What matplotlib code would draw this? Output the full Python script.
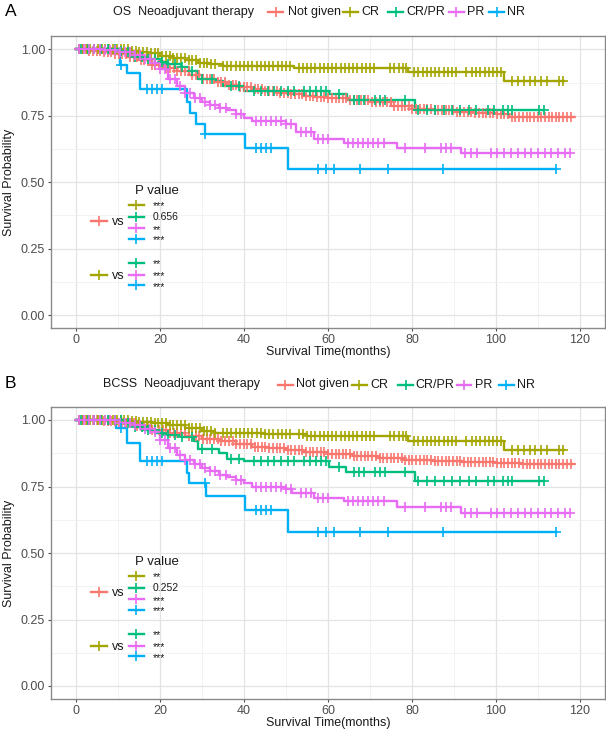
import matplotlib
matplotlib.use('Agg')
import matplotlib.pyplot as plt
from matplotlib.lines import Line2D
import numpy as np

plt.rcParams['font.family'] = ['Liberation Sans', 'DejaVu Sans']

# ---------------- data ----------------
groups = ["Not given", "CR", "CR/PR", "PR", "NR"]
colors = ["#F8766D", "#A3A500", "#00BF7D", "#E76BF3", "#00B0F6"]

# OS (panel A): step times / survival after step / last follow-up
os_notgiven_t = [0, 3, 6, 9, 12, 15, 18, 21, 24, 27, 30, 33, 36, 39, 42, 45, 48, 51, 54, 57, 60, 65, 70, 75, 80, 85, 90, 95, 100, 103]
os_notgiven_s = [1.0, 0.995, 0.99, 0.982, 0.972, 0.958, 0.942, 0.93, 0.918, 0.905, 0.89, 0.876, 0.866, 0.858, 0.85, 0.843, 0.837, 0.831, 0.826, 0.822, 0.818, 0.808, 0.80, 0.788, 0.775, 0.77, 0.765, 0.76, 0.755, 0.745]
os_cr_t = [0, 13, 15, 17, 20, 23, 26, 29, 32, 35, 52, 79, 102]
os_cr_s = [1.0, 0.995, 0.99, 0.985, 0.975, 0.967, 0.958, 0.95, 0.943, 0.938, 0.93, 0.914, 0.879]
os_crpr_t = [0, 10, 12, 14, 17, 20, 22, 25, 27, 29, 33, 35, 40, 60.3, 64.5, 80.6]
os_crpr_s = [1.0, 0.995, 0.99, 0.972, 0.962, 0.954, 0.945, 0.935, 0.92, 0.89, 0.88, 0.86, 0.843, 0.83, 0.81, 0.77]
os_pr_t = [0, 6, 10, 13, 16, 18, 20, 22, 24, 26, 28, 30, 32, 34, 36, 38, 40, 42, 50, 52.4, 56.7, 63.8, 76.5, 91.7]
os_pr_s = [1.0, 0.997, 0.99, 0.98, 0.965, 0.95, 0.925, 0.89, 0.86, 0.835, 0.815, 0.80, 0.79, 0.78, 0.77, 0.755, 0.742, 0.73, 0.72, 0.687, 0.662, 0.647, 0.63, 0.609]
os_nr_t = [0, 10.5, 12.2, 15.2, 26.4, 27.2, 28.6, 30.8, 40.2, 50.4]
os_nr_s = [1.0, 0.94, 0.91, 0.85, 0.80, 0.76, 0.72, 0.68, 0.63, 0.55]

# BCSS (panel B)
bcss_notgiven_t = [0, 6, 10, 14, 18, 22, 26, 30, 34, 38, 42, 46, 50, 54, 60, 66, 72, 78, 85, 92, 100, 106]
bcss_notgiven_s = [1.0, 0.995, 0.99, 0.977, 0.962, 0.95, 0.94, 0.93, 0.92, 0.91, 0.90, 0.893, 0.886, 0.88, 0.872, 0.865, 0.857, 0.85, 0.846, 0.842, 0.838, 0.835]
bcss_cr_t = [0, 13, 15, 18, 22, 26, 30, 33, 45, 55, 79, 102]
bcss_cr_s = [1.0, 0.997, 0.993, 0.988, 0.98, 0.97, 0.96, 0.95, 0.947, 0.94, 0.921, 0.888]
bcss_crpr_t = [0, 12, 14, 16, 19, 22, 25, 28, 29, 34, 36, 40, 60.3, 64.3, 80.6]
bcss_crpr_s = [1.0, 0.99, 0.975, 0.962, 0.952, 0.944, 0.935, 0.92, 0.89, 0.875, 0.855, 0.845, 0.825, 0.806, 0.771]
bcss_pr_t = [0, 10, 13, 16, 18, 20, 22, 24, 26, 28, 30, 32, 34, 36, 38, 40, 42, 50, 51.5, 56.7, 63.8, 76.5, 91.7]
bcss_pr_s = [1.0, 0.99, 0.98, 0.965, 0.955, 0.925, 0.895, 0.87, 0.85, 0.835, 0.82, 0.81, 0.795, 0.785, 0.775, 0.765, 0.75, 0.74, 0.725, 0.706, 0.694, 0.673, 0.65]
bcss_nr_t = [0, 9.5, 12.2, 15.2, 26.4, 27, 31, 40.2, 50.4]
bcss_nr_s = [1.0, 0.97, 0.915, 0.845, 0.80, 0.7625, 0.715, 0.6625, 0.58]

# last follow-up per group
end_times = [118.5, 116.3, 111.5, 117.5, 114.3]

# censoring times (shared by both end points)
cens_notgiven = [0.6, 1.4, 2.3, 3.2, 4.1, 5.0, 5.8, 6.7, 7.6, 8.4, 9.3, 10.2, 11.0, 11.9, 12.8, 13.7, 14.5, 15.4,
                 16.3, 17.1, 18.0, 18.9, 19.8, 20.6, 21.5, 22.4, 23.3, 24.1, 25.0, 25.9, 26.8, 27.6, 28.5, 29.4,
                 30.3, 31.1, 32.0, 32.9, 33.8, 34.6, 35.5, 36.4, 37.3, 38.1, 39.0, 39.9, 40.8, 41.6, 42.5, 43.4,
                 44.3, 45.1, 46.0, 46.9, 47.8, 48.6, 49.5, 50.4, 51.3, 52.1, 53.0, 53.9, 54.8, 55.6, 56.5, 57.4,
                 58.3, 59.1, 60.0, 60.9, 61.8, 62.6, 63.5, 64.4, 65.3, 66.1, 67.0, 67.9, 68.8, 69.6, 70.5, 71.4,
                 72.3, 73.1, 74.0, 74.9, 75.8, 76.6, 77.5, 78.4, 79.3, 80.1, 81.0, 81.9, 82.8, 83.6, 84.5, 85.4,
                 86.3, 87.1, 88.0, 88.9, 89.8, 90.6, 91.5, 92.4, 93.3, 94.1, 95.0, 95.9, 96.8, 97.6, 98.5, 99.4,
                 100.3, 101.1, 102.0, 102.9, 103.8, 104.6, 105.5, 106.4, 107.3, 108.1, 109.0, 109.9, 110.8, 111.6,
                 112.5, 113.4, 114.3, 115.1, 116.0, 116.9, 117.8]
cens_cr = [0.7, 1.6, 2.5, 3.4, 4.3, 5.2, 6.1, 7.0, 7.9, 8.8, 9.7, 10.6, 11.5, 12.4, 13.3, 14.2, 15.1, 16.0, 16.9,
           17.8, 18.7, 19.6, 20.5, 21.4, 22.3, 23.2, 24.1, 25.0, 25.9, 26.8, 27.7, 28.6, 29.5, 30.4, 31.3, 32.2,
           33.1, 35.0, 36.0, 37.0, 38.0, 39.0, 40.0, 41.0, 42.0, 43.0, 44.0, 45.0, 46.0, 47.0, 48.0, 49.0, 50.0,
           51.0, 53.0, 54.0, 55.0, 56.0, 57.0, 58.0, 59.0, 60.0, 61.0, 62.0, 63.0, 64.0, 65.0, 66.0, 67.0, 68.0,
           69.0, 70.0, 71.0, 74.8, 75.8, 76.8, 77.8, 78.6, 80.5, 81.5, 82.5, 83.5, 84.5, 85.5, 86.5, 87.5, 88.5,
           89.5, 90.5, 92.8, 94.3, 95.3, 96.3, 97.3, 98.3, 99.3, 100.3, 101.3, 103.8, 105.2, 106.6, 108.0,
           109.4, 110.8, 112.2, 115.0, 116.0]
cens_crpr = [1.2, 2.8, 4.4, 6.0, 7.6, 9.2, 10.8, 12.4, 14.0, 15.6, 17.2, 18.8, 20.4, 22.0, 23.6, 25.2, 27.6,
             30.0, 32.4, 36.8, 38.8, 42.4, 44.0, 45.6, 47.2, 48.8, 50.4, 52.0, 54.4, 55.6, 57.2, 58.4, 59.6, 62.5,
             66.2, 67.4, 68.6, 71.2, 72.4, 73.6, 78.3, 81.5, 83.5, 85.5, 87.5, 89.5, 91.5, 93.5, 95.2, 98.0, 99.5,
             101.6, 102.8, 103.8, 110.2, 111.5]
cens_pr = [0.8, 2.0, 3.2, 4.4, 5.6, 6.8, 8.0, 9.2, 10.4, 11.6, 12.8, 14.0, 15.2, 16.4, 17.6, 18.8, 20.0, 21.2,
           22.4, 23.6, 24.8, 26.0, 27.2, 28.4, 29.6, 30.8, 32.0, 33.2, 34.4, 35.6, 38.0, 39.2, 42.8, 44.0, 45.2,
           46.4, 47.6, 48.8, 50.0, 51.2, 53.6, 54.8, 56.0, 57.6, 58.8, 60.0, 64.8, 66.0, 67.2, 68.4, 69.6, 70.8,
           72.0, 73.4, 78.3, 83.0, 87.0, 88.2, 89.3, 92.5, 94.0, 95.5, 98.7, 100.2, 102.0, 103.6, 105.2, 106.8,
           108.4, 110.0, 111.6, 113.2, 114.8, 116.4, 117.5]
cens_nr = [10.8, 16.8, 18.0, 19.2, 20.4, 30.8, 42.8, 44.0, 45.2, 46.4, 57.5, 59.5, 61.5, 67.5, 74.4, 87.3, 114.3]

os_curves = [(os_notgiven_t, os_notgiven_s), (os_cr_t, os_cr_s), (os_crpr_t, os_crpr_s),
             (os_pr_t, os_pr_s), (os_nr_t, os_nr_s)]
bcss_curves = [(bcss_notgiven_t, bcss_notgiven_s), (bcss_cr_t, bcss_cr_s), (bcss_crpr_t, bcss_crpr_s),
               (bcss_pr_t, bcss_pr_s), (bcss_nr_t, bcss_nr_s)]
censors = [cens_notgiven, cens_cr, cens_crpr, cens_pr, cens_nr]

# p values: Not given vs (CR, CR/PR, PR, NR); CR vs (CR/PR, PR, NR)
os_p_vs_notgiven = ["***", "0.656", "**", "***"]
os_p_vs_cr = ["**", "***", "***"]
bcss_p_vs_notgiven = ["**", "0.252", "***", "***"]
bcss_p_vs_cr = ["**", "***", "***"]

x_ticks = [0, 20, 40, 60, 80, 100, 120]
y_ticks = [0.0, 0.25, 0.5, 0.75, 1.0]
y_ticklabels = ["0.00", "0.25", "0.50", "0.75", "1.00"]

# ---------------- figure ----------------
W, H = 606, 733
fig = plt.figure(figsize=(W / 100, H / 100), dpi=100)
fig.patch.set_facecolor('white')


def fpos(x, y):
    return x / W, 1 - y / H


LW = 1.7
MS = 7
MEW = 1.2
TXT = '#1a1a1a'


def draw_panel(ax, curves, p_ng, p_cr):
    ax.set_xlim(-6, 126)
    ax.set_ylim(-0.05, 1.05)
    ax.set_xticks(x_ticks)
    ax.set_xticks([10, 30, 50, 70, 90, 110], minor=True)
    ax.set_yticks(y_ticks)
    ax.set_yticklabels(y_ticklabels)
    ax.set_yticks([0.125, 0.375, 0.625, 0.875], minor=True)
    ax.grid(True, which='major', color='#E3E3E3', lw=0.9, zorder=0)
    ax.grid(True, which='minor', color='#F0F0F0', lw=0.6, zorder=0)
    ax.set_axisbelow(True)
    for sp in ax.spines.values():
        sp.set_color('#8a8a8a')
        sp.set_linewidth(1.0)
    ax.tick_params(which='major', length=2.5, width=0.8, color='#4d4d4d', labelsize=9,
                   labelcolor='#4d4d4d', pad=1.5)
    ax.tick_params(which='minor', length=0)
    ax.set_xlabel('Survival Time(months)', fontsize=9, color=TXT, labelpad=0)
    ax.set_ylabel('Survival Probability', fontsize=9, color=TXT, labelpad=4)

    for (t, s), end, cens, col in zip(curves, end_times, censors, colors):
        tt = list(t) + [end]
        ss = list(s) + [s[-1]]
        ax.step(tt, ss, where='post', color=col, lw=LW, zorder=3)
        t_arr = np.array(t)
        s_arr = np.array(s)
        cy = [s_arr[np.searchsorted(t_arr, c, side='right') - 1] for c in cens]
        ax.plot(cens, cy, ls='none', marker='+', ms=MS, mew=MEW, color=col, zorder=4)

    # P value block
    ax.text(19.2, 0.466, 'P value', ha='center', va='center', fontsize=9.5, color=TXT)
    rows1 = [0.415, 0.368, 0.327, 0.287]
    rows2 = [0.196, 0.152, 0.112]
    kxc = 14.4
    tx = 18.3

    def key(xc, y, col, half=1.7):
        ax.plot([xc - half, xc + half], [y, y], color=col, lw=LW, zorder=5)
        ax.plot([xc], [y], marker='+', ms=MS, mew=MEW, color=col, zorder=5)

    def star(y, lab):
        if lab[0].isdigit():
            ax.text(tx, y + 0.002, lab, ha='left', va='center', fontsize=7.5, color=TXT)
        else:
            ax.text(tx, y - 0.006, lab, ha='left', va='center', fontsize=7.5, color=TXT)

    for y, col, lab in zip(rows1, colors[1:], p_ng):
        key(kxc, y, col)
        star(y, lab)
    for y, col, lab in zip(rows2, colors[2:], p_cr):
        key(kxc, y, col)
        star(y, lab)
    key(5.4, 0.355, colors[0], half=1.9)
    ax.text(8.6, 0.350, 'vs', ha='left', va='center', fontsize=9, color=TXT)
    key(5.4, 0.152, colors[1], half=1.9)
    ax.text(8.6, 0.147, 'vs', ha='left', va='center', fontsize=9, color=TXT)


def draw_legend(title, title_x, y, key_centers, text_starts):
    fig.text(*fpos(title_x, y), title, ha='left', va='center', fontsize=9, color=TXT)
    for xc, xt, col, lab in zip(key_centers, text_starts, colors, groups):
        x0, y0 = fpos(xc - 7.5, y)
        x1, _ = fpos(xc + 7.5, y)
        fig.add_artist(Line2D([x0, x1], [y0, y0], transform=fig.transFigure, color=col, lw=LW))
        fig.add_artist(Line2D([(x0 + x1) / 2], [y0], transform=fig.transFigure, color=col,
                              marker='+', ms=MS, mew=MEW, ls='none'))
        fig.text(*fpos(xt, y), lab, ha='left', va='center', fontsize=9, color=TXT)


axA = fig.add_axes([50.8 / W, 1 - 328.3 / H, (605.2 - 50.8) / W, (328.3 - 36) / H])
axB = fig.add_axes([50.8 / W, 1 - 699.3 / H, (605.2 - 50.8) / W, (699.3 - 406.7) / H])

draw_panel(axA, os_curves, os_p_vs_notgiven, os_p_vs_cr)
draw_panel(axB, bcss_curves, bcss_p_vs_notgiven, bcss_p_vs_cr)

draw_legend('OS  Neoadjuvant therapy', 113, 12,
            [275.5, 350, 395.5, 456, 496.5], [288, 361, 406, 467, 507])
draw_legend('BCSS  Neoadjuvant therapy', 103, 384.5,
            [285, 359, 405.5, 464, 506], [296, 370, 415, 475, 517])

fig.text(*fpos(5, 12), 'A', ha='left', va='center', fontsize=12.5, color='black')
fig.text(*fpos(5, 383), 'B', ha='left', va='center', fontsize=12.5, color='black')

fig.savefig('out.png', dpi=100, facecolor='white')
